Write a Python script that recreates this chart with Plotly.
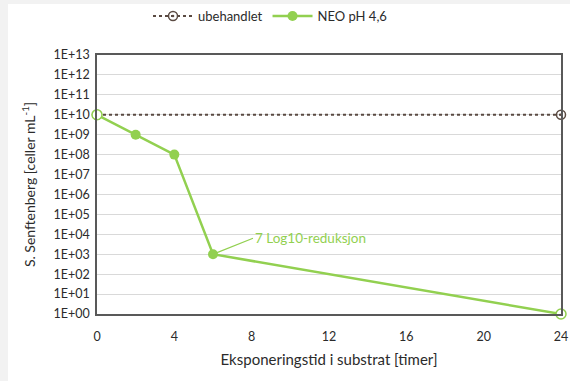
import plotly.graph_objects as go

# Data
hours = [0, 2, 4, 6, 24]
neo_ph46 = [1e10, 1e9, 1e8, 1e3, 1e0]
untreated_hours = [0, 24]
untreated = [1e10, 1e10]
y_tick_exps = list(range(0, 14))
y_tick_labels = ["1E+%02d" % k for k in y_tick_exps]
x_ticks = [0, 4, 8, 12, 16, 20, 24]

GREEN = "#92d050"
BROWN = "#5a4a42"
TXT = "#2b2b2b"
FONT = "Lato"

fig = go.Figure()
fig.add_trace(go.Scatter(
    x=untreated_hours, y=untreated, name="ubehandlet", mode="lines+markers",
    line=dict(color=BROWN, width=2, dash="dot"),
    marker=dict(symbol="circle-open-dot", size=9, color=BROWN, line=dict(width=1.5)),
    cliponaxis=False,
))
fig.add_trace(go.Scatter(
    x=hours, y=neo_ph46, name="NEO pH 4,6", mode="lines+markers",
    line=dict(color=GREEN, width=2.5),
    marker=dict(symbol="circle", size=10, color=GREEN),
    cliponaxis=False,
))
# open end-point markers
fig.add_trace(go.Scatter(
    x=[hours[0], hours[-1]], y=[neo_ph46[0], neo_ph46[-1]], mode="markers",
    showlegend=False, hoverinfo="skip", cliponaxis=False,
    marker=dict(symbol="circle", size=10, color="white", line=dict(color=GREEN, width=1.5)),
))

fig.add_annotation(
    x=hours[3], y=3, xref="x", yref="y", text="7 Log10-reduksjon",
    showarrow=True, arrowhead=0, arrowwidth=1.2, arrowcolor=GREEN,
    ax=40, ay=-16, xanchor="left", yanchor="middle", standoff=3,
    font=dict(family=FONT, size=13.5, color=GREEN),
)

L, R, T, B = 97, 9, 55, 67
W, H = 570, 381
pw, ph = W - L - R, H - T - B
fig.add_shape(type="rect", xref="paper", yref="paper", layer="below",
              x0=-L / pw, x1=(8 - L) / pw, y0=-B / ph, y1=(H - B) / ph,
              fillcolor="#f2f2f2", line=dict(width=0))
fig.add_shape(type="rect", xref="paper", yref="paper", layer="below",
              x0=-L / pw, x1=(W - L) / pw, y0=(H - B - 4) / ph, y1=(H - B) / ph,
              fillcolor="#f2f2f2", line=dict(width=0))

fig.update_layout(
    width=W, height=H,
    margin=dict(l=L, r=R, t=T, b=B, autoexpand=False),
    paper_bgcolor="white", plot_bgcolor="white",
    font=dict(family=FONT, size=12, color=TXT),
    legend=dict(orientation="h", x=(270 - L) / pw, xanchor="center", y=1 + 39 / ph, yanchor="middle",
                font=dict(family=FONT, size=13, color=TXT), itemwidth=40,
                bgcolor="rgba(0,0,0,0)"),
    showlegend=True,
)
fig.update_xaxes(
    range=[0, 24], tickvals=x_ticks, showgrid=False, zeroline=False, automargin=False,
    showline=True, linecolor="#595959", linewidth=1.5, mirror=True,
    ticks="", ticklabelstandoff=10, tickfont=dict(family=FONT, size=12.5, color=TXT),
    title=dict(text="Eksponeringstid i substrat [timer]",
               font=dict(family=FONT, size=15, color=TXT), standoff=12),
)
fig.update_yaxes(
    type="log", range=[0, 13], tickvals=[10 ** k for k in y_tick_exps], ticktext=y_tick_labels,
    showgrid=True, gridcolor="#d9d9d9", gridwidth=1, zeroline=False, automargin=False,
    showline=True, linecolor="#595959", linewidth=1.5, mirror=True,
    ticks="", ticklabelstandoff=3, tickfont=dict(family=FONT, size=12.5, color=TXT),
    title=dict(text="S. Senftenberg [celler mL<sup>-1</sup>]",
               font=dict(family=FONT, size=14, color=TXT), standoff=15),
)

fig.write_html("out.html", config={"displayModeBar": False},
               post_script="document.body.style.margin='0';document.body.style.overflow='hidden';")
